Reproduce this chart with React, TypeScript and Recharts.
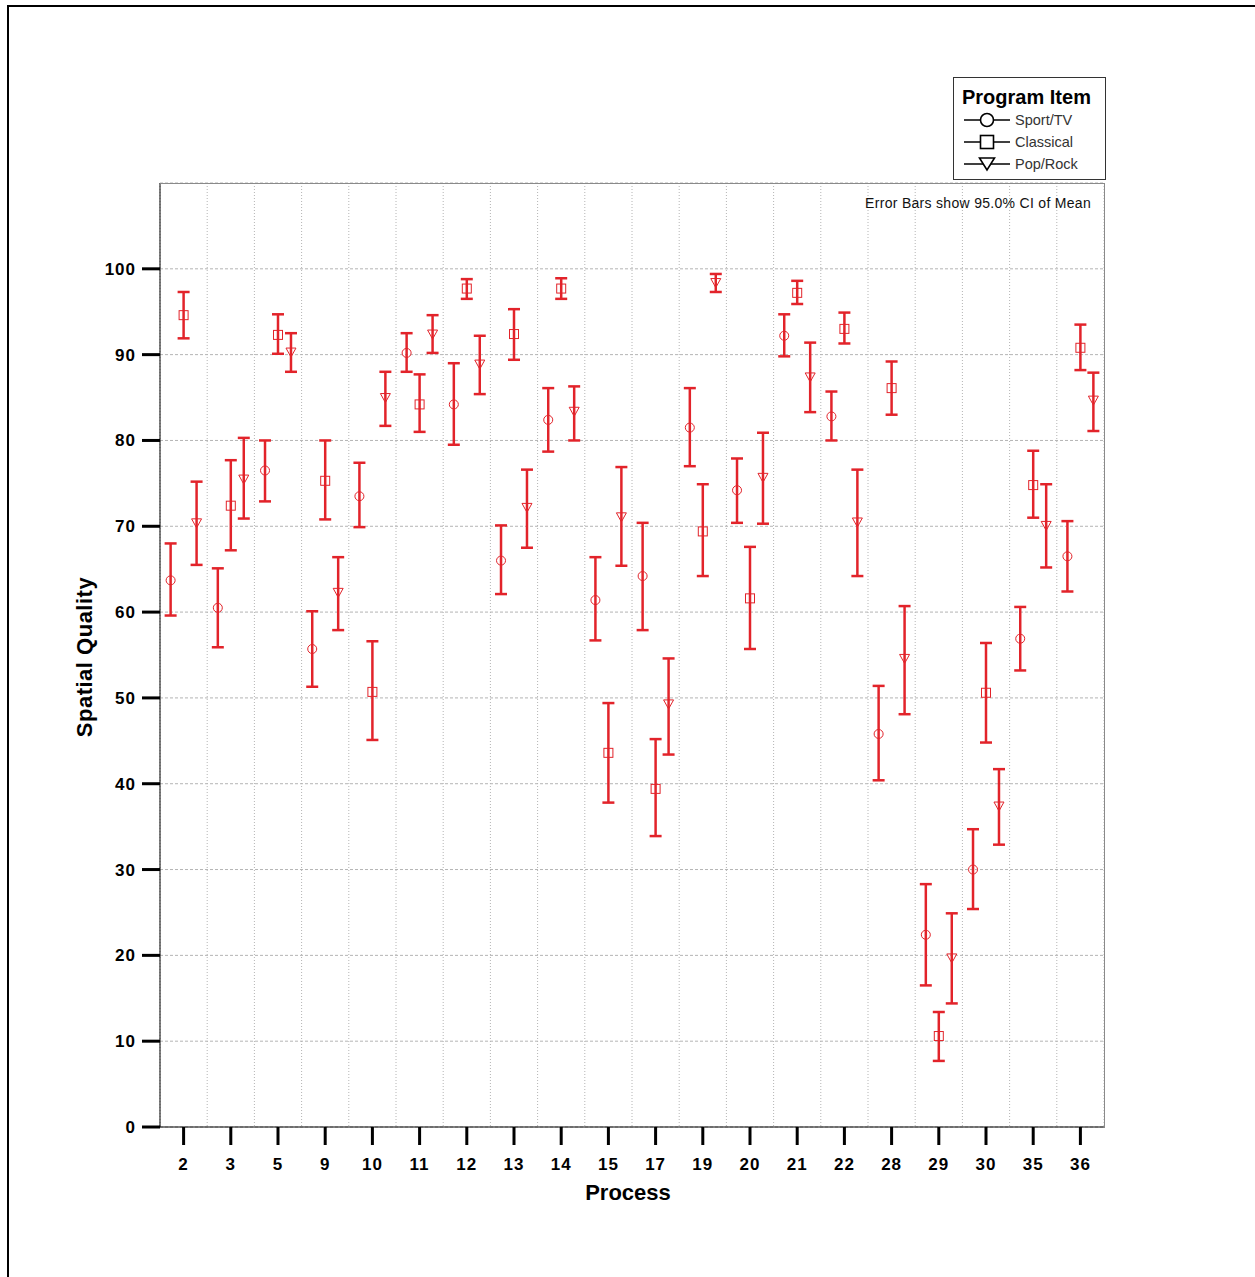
import React from 'react';
import { ScatterChart, Scatter, XAxis, YAxis, CartesianGrid, ErrorBar } from 'recharts';

const categories = ['2', '3', '5', '9', '10', '11', '12', '13', '14', '15', '17', '19', '20', '21', '22', '28', '29', '30', '35', '36'];

const sportMean = [63.7, 60.5, 76.5, 55.7, 73.5, 90.2, 84.2, 66.0, 82.4, 61.4, 64.2, 81.5, 74.2, 92.2, 82.8, 45.8, 22.4, 30.0, 56.9, 66.5];
const sportLow = [59.6, 55.9, 72.9, 51.3, 69.9, 88.0, 79.5, 62.1, 78.7, 56.7, 57.9, 77.0, 70.4, 89.8, 80.0, 40.4, 16.5, 25.4, 53.2, 62.4];
const sportHigh = [68.0, 65.1, 80.0, 60.1, 77.4, 92.5, 89.0, 70.1, 86.1, 66.4, 70.4, 86.1, 77.9, 94.7, 85.7, 51.4, 28.3, 34.7, 60.6, 70.6];

const classicalMean = [94.6, 72.4, 92.3, 75.3, 50.7, 84.2, 97.7, 92.4, 97.7, 43.6, 39.4, 69.4, 61.6, 97.2, 93.0, 86.1, 10.6, 50.6, 74.8, 90.8];
const classicalLow = [91.9, 67.2, 90.1, 70.8, 45.1, 81.0, 96.5, 89.4, 96.5, 37.8, 33.9, 64.2, 55.7, 95.9, 91.3, 83.0, 7.7, 44.8, 71.0, 88.2];
const classicalHigh = [97.3, 77.7, 94.7, 80.0, 56.6, 87.7, 98.8, 95.3, 98.9, 49.4, 45.2, 74.9, 67.6, 98.6, 94.9, 89.2, 13.4, 56.4, 78.8, 93.5];

const popMean = [70.4, 75.5, 90.3, 62.3, 85.0, 92.4, 88.9, 72.2, 83.4, 71.1, 49.3, 98.4, 75.7, 87.4, 70.5, 54.6, 19.7, 37.4, 70.1, 84.7];
const popLow = [65.5, 70.9, 88.0, 57.9, 81.7, 90.2, 85.4, 67.5, 80.0, 65.4, 43.4, 97.3, 70.3, 83.3, 64.2, 48.1, 14.4, 32.9, 65.2, 81.1];
const popHigh = [75.2, 80.3, 92.5, 66.4, 88.0, 94.6, 92.2, 76.6, 86.3, 76.9, 54.6, 99.4, 80.9, 91.4, 76.6, 60.7, 24.9, 41.7, 74.9, 87.9];

const yTicks = [0, 10, 20, 30, 40, 50, 60, 70, 80, 90, 100];
const seriesNames = ['Sport/TV', 'Classical', 'Pop/Rock'];

const RED = '#e2232a';
const FONT = '"Liberation Sans", Arial, Helvetica, sans-serif';

const xCenters = categories.map((_, i) => i + 0.5);
const xBoundaries = categories.slice(1).map((_, i) => i + 1);

function build(mean: number[], low: number[], high: number[], offset: number) {
  return categories.map((c, i) => ({
    category: c,
    x: i + 0.5 + offset,
    y: mean[i],
    err: [+(mean[i] - low[i]).toFixed(2), +(high[i] - mean[i]).toFixed(2)],
  }));
}

const sportData = build(sportMean, sportLow, sportHigh, -0.275);
const classicalData = build(classicalMean, classicalLow, classicalHigh, 0);
const popData = build(popMean, popLow, popHigh, 0.275);

const CircleShape = (p: any) => (
  <circle cx={p.cx} cy={p.cy} r={4.5} fill="none" stroke={RED} strokeWidth={1} />
);
const SquareShape = (p: any) => (
  <rect x={p.cx - 4.5} y={p.cy - 4.5} width={9} height={9} fill="none" stroke={RED} strokeWidth={1} />
);
const TriangleShape = (p: any) => (
  <path d={`M${p.cx - 5},${p.cy - 4} L${p.cx + 5},${p.cy - 4} L${p.cx},${p.cy + 5} Z`} fill="none" stroke={RED} strokeWidth={1} />
);

const LegendIcon = ({ kind }: { kind: number }) => (
  <svg width={50} height={20} style={{ display: 'block' }}>
    <line x1={1} y1={10} x2={47} y2={10} stroke="#000" strokeWidth={1.6} />
    {kind === 0 && <circle cx={24} cy={10} r={6.5} fill="#fff" stroke="#000" strokeWidth={1.6} />}
    {kind === 1 && <rect x={17.5} y={3.5} width={13} height={13} fill="#fff" stroke="#000" strokeWidth={1.6} />}
    {kind === 2 && <path d="M16.5,4 L31.5,4 L24,16 Z" fill="#fff" stroke="#000" strokeWidth={1.6} />}
  </svg>
);

const tickStyle = { fill: '#000', fontSize: 17, fontWeight: 'bold', fontFamily: FONT, letterSpacing: 1 };

export default function App() {
  return (
    <div style={{ position: 'absolute', left: 0, top: 0, width: 1255, height: 1277, overflow: 'hidden', background: '#fff', fontFamily: FONT }}>
      <div style={{ position: 'absolute', left: 7, top: 5, width: 1400, height: 1400, borderLeft: '2px solid #000', borderTop: '2px solid #000' }} />
      <div style={{ position: 'absolute', left: 0, top: 0 }}>
        <ScatterChart width={1255} height={1277} margin={{ top: 183, right: 151, left: 80, bottom: 90 }}>
          <CartesianGrid horizontal={true} vertical={false} stroke="#b4b4b4" strokeDasharray="3 2" />
          <CartesianGrid xAxisId="grid" horizontal={false} vertical={true} stroke="#b4b4b4" strokeDasharray="1 2" />
          <XAxis
            xAxisId="grid"
            type="number"
            dataKey="x"
            domain={[0, categories.length]}
            ticks={xBoundaries}
            allowDataOverflow
            hide
          />
          <XAxis
            type="number"
            dataKey="x"
            domain={[0, categories.length]}
            ticks={xCenters}
            interval={0}
            allowDataOverflow
            height={60}
            tickSize={18}
            tickMargin={13}
            tickFormatter={(v: number) => categories[Math.floor(v)]}
            axisLine={{ stroke: '#000', strokeWidth: 1 }}
            tickLine={{ stroke: '#000', strokeWidth: 3 }}
            tick={tickStyle}
          />
          <YAxis
            type="number"
            dataKey="y"
            domain={[0, 110]}
            ticks={yTicks}
            interval={0}
            allowDataOverflow
            width={80}
            tickSize={18}
            tickMargin={6}
            axisLine={{ stroke: '#000', strokeWidth: 1 }}
            tickLine={{ stroke: '#000', strokeWidth: 3 }}
            tick={tickStyle}
          />
          <Scatter name={seriesNames[0]} data={sportData} shape={CircleShape} isAnimationActive={false}>
            <ErrorBar dataKey="err" direction="y" width={6} stroke={RED} strokeWidth={2.5} />
          </Scatter>
          <Scatter name={seriesNames[1]} data={classicalData} shape={SquareShape} isAnimationActive={false}>
            <ErrorBar dataKey="err" direction="y" width={6} stroke={RED} strokeWidth={2.5} />
          </Scatter>
          <Scatter name={seriesNames[2]} data={popData} shape={TriangleShape} isAnimationActive={false}>
            <ErrorBar dataKey="err" direction="y" width={6} stroke={RED} strokeWidth={2.5} />
          </Scatter>
        </ScatterChart>
      </div>
      {/* plot frame top/right */}
      <div style={{ position: 'absolute', left: 160, top: 183, width: 944, height: 944, borderTop: '1px solid #8a8a8a', borderRight: '1px solid #8a8a8a', pointerEvents: 'none' }} />
      {/* note */}
      <div style={{ position: 'absolute', right: 1255 - 1091, top: 195, fontSize: 14, letterSpacing: 0.3, lineHeight: '17px', color: '#111', whiteSpace: 'nowrap' }}>
        Error Bars show 95.0% CI of Mean
      </div>
      {/* axis titles */}
      <div style={{ position: 'absolute', left: 628, top: 1180, transform: 'translateX(-50%)', fontSize: 22, lineHeight: '26px', fontWeight: 'bold', color: '#000', whiteSpace: 'nowrap' }}>
        Process
      </div>
      <div style={{ position: 'absolute', left: 85, top: 657, transform: 'translate(-50%, -50%) rotate(-90deg)', fontSize: 22, letterSpacing: 0.5, fontWeight: 'bold', color: '#000', whiteSpace: 'nowrap' }}>
        Spatial Quality
      </div>
      {/* legend */}
      <div style={{ position: 'absolute', left: 953, top: 77, width: 151, height: 101, border: '1px solid #333', background: '#fff' }}>
        <div style={{ position: 'absolute', left: 8, top: 7, fontSize: 20, fontWeight: 'bold', color: '#000', whiteSpace: 'nowrap', lineHeight: '24px' }}>
          Program Item
        </div>
        {seriesNames.map((n, i) => (
          <div key={n} style={{ position: 'absolute', left: 9, top: 32 + i * 22, height: 20, display: 'flex', alignItems: 'center' }}>
            <LegendIcon kind={i} />
            <span style={{ marginLeft: 2, fontSize: 14.5, color: '#333', whiteSpace: 'nowrap' }}>{n}</span>
          </div>
        ))}
      </div>
    </div>
  );
}
